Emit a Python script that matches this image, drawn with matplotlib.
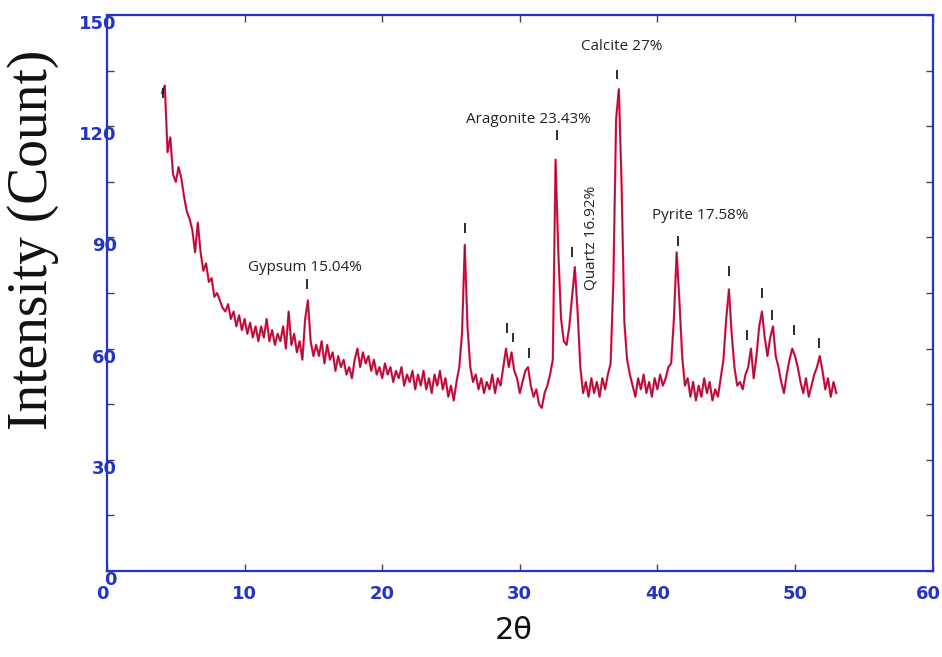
import numpy as np
import matplotlib.pyplot as plt
from matplotlib.ticker import MultipleLocator
from matplotlib.transforms import ScaledTranslation

# XRD scan, 0.2 deg step starting at 4.0 deg (counts)
counts = [
    129, 131, 113, 117, 107, 105, 109, 106, 101, 97,   # 4.0 - 5.8
    95, 92, 86, 94, 86, 81, 83, 78, 79, 74,            # 6.0 - 7.8
    75, 73, 71, 70, 72, 68, 70, 66, 69, 65,            # 8.0 - 9.8
    68, 64, 67, 63, 66, 62, 66, 63, 68, 62,            # 10.0 - 11.8
    65, 61, 64, 62, 66, 60, 70, 61, 64, 59,            # 12.0 - 13.8
    62, 57, 68, 73, 62, 58, 61, 58, 62, 56,            # 14.0 - 15.8
    61, 57, 59, 54, 58, 55, 57, 53, 55, 52,            # 16.0 - 17.8
    57, 60, 55, 59, 56, 58, 54, 57, 53, 55,            # 18.0 - 19.8
    52, 56, 53, 55, 51, 54, 52, 55, 50, 53,            # 20.0 - 21.8
    51, 54, 49, 53, 50, 54, 49, 52, 48, 53,            # 22.0 - 23.8
    50, 54, 49, 52, 47, 50, 46, 51, 55, 64,            # 24.0 - 25.8
    88, 66, 55, 51, 53, 49, 52, 48, 51, 49,            # 26.0 - 27.8
    53, 48, 52, 50, 55, 60, 55, 59, 54, 52,            # 28.0 - 29.8
    48, 51, 54, 55, 50, 47, 49, 45, 44, 48,            # 30.0 - 31.8
    50, 53, 57, 111, 86, 68, 62, 61, 66, 74,           # 32.0 - 33.8
    82, 70, 55, 48, 51, 47, 52, 48, 51, 47,            # 34.0 - 35.8
    52, 49, 53, 56, 78, 122, 130, 104, 67, 57,         # 36.0 - 37.8
    53, 50, 47, 52, 49, 53, 48, 51, 47, 52,            # 38.0 - 39.8
    49, 53, 50, 52, 55, 56, 68, 86, 73, 58,            # 40.0 - 41.8
    50, 52, 47, 51, 46, 50, 47, 52, 48, 51,            # 42.0 - 43.8
    46, 49, 47, 52, 57, 68, 76, 64, 55, 50,            # 44.0 - 45.8
    51, 49, 53, 55, 60, 52, 58, 66, 70, 63,            # 46.0 - 47.8
    58, 63, 66, 58, 55, 51, 48, 53, 57, 60,            # 48.0 - 49.8
    58, 55, 51, 48, 52, 47, 50, 53, 55, 58,            # 50.0 - 51.8
    54, 49, 52, 47, 51, 48,                            # 52.0 - 53.0
]
two_theta = np.round(4.0 + 0.2 * np.arange(len(counts)), 1)

# peak marks ("|") above the identified reflections
mark_x = [4.07, 14.5, 26.0, 29.1, 29.5, 30.65, 32.7, 33.77, 37.1, 41.47,
          45.24, 46.5, 47.57, 48.3, 49.96, 51.78]
mark_y = [129, 77.5, 92.5, 65.5, 63, 58.8, 117.6, 86, 134, 89,
          81, 63.7, 75, 69, 65, 61.5]

# phase labels
phase_txt = ['Gypsum 15.04%', 'Aragonite 23.43%', 'Calcite 27%',
             'Quartz 16.92%', 'Pyrite 17.58%']
phase_x = [14.4, 30.6, 37.4, 35.2, 43.1]
phase_y = [82, 121.7, 141.4, 89.8, 96]
phase_rot = [0, 0, 0, 90, 0]

x_ticks = [0, 10, 20, 30, 40, 50, 60]
y_ticks = [0, 30, 60, 90, 120, 150]

blue = '#2434c4'

fig = plt.figure(figsize=(9.42, 6.57), dpi=100)
ax = fig.add_axes([0.1136, 0.131, 0.8764, 0.846])

ax.plot(two_theta, counts, color='#e8194f', lw=1.6, zorder=3)
ax.plot(two_theta, counts, color='#5a0f22', lw=0.45, alpha=0.8, zorder=4)

ax.vlines(mark_x, np.array(mark_y) - 1.3, np.array(mark_y) + 1.3,
          color='#1a1a2a', lw=1.3, zorder=5)

for t, x, y, r in zip(phase_txt, phase_x, phase_y, phase_rot):
    ax.text(x, y, t, rotation=r, ha='center', va='center',
            fontsize=11, family='Open Sans', color='#222222', zorder=6)

ax.set_xlim(0, 60)
ax.set_ylim(0, 150)
ax.set_xticks(x_ticks)
ax.set_yticks(y_ticks)
ax.yaxis.set_minor_locator(MultipleLocator(15))

for s in ax.spines.values():
    s.set_color(blue)
    s.set_linewidth(1.6)

ax.tick_params(which='both', direction='in', color='#444444', width=1,
               length=5, top=True, right=True)
ax.tick_params(axis='y', which='major', pad=-7, labelsize=13, labelcolor=blue)
ax.tick_params(axis='x', which='major', pad=10, labelsize=13, labelcolor=blue)

for lab in ax.get_xticklabels() + ax.get_yticklabels():
    lab.set_fontweight('bold')
for lab in ax.get_yticklabels():
    lab.set_transform(lab.get_transform()
                      + ScaledTranslation(0, -0.07, fig.dpi_scale_trans))
xlabs = ax.get_xticklabels()
xlabs[0].set_transform(xlabs[0].get_transform()
                       + ScaledTranslation(-0.05, 0, fig.dpi_scale_trans))
xlabs[-1].set_transform(xlabs[-1].get_transform()
                        + ScaledTranslation(-0.04, 0, fig.dpi_scale_trans))

fig.text(0.035, 0.635, 'Intensity (Count)', rotation=90, ha='center',
         va='center', fontsize=40, family='Liberation Serif', color='#111111')
fig.text(0.545, 0.04, '2θ', ha='center', va='center', fontsize=22,
         color='#111111')

fig.savefig('out.png', dpi=100)
